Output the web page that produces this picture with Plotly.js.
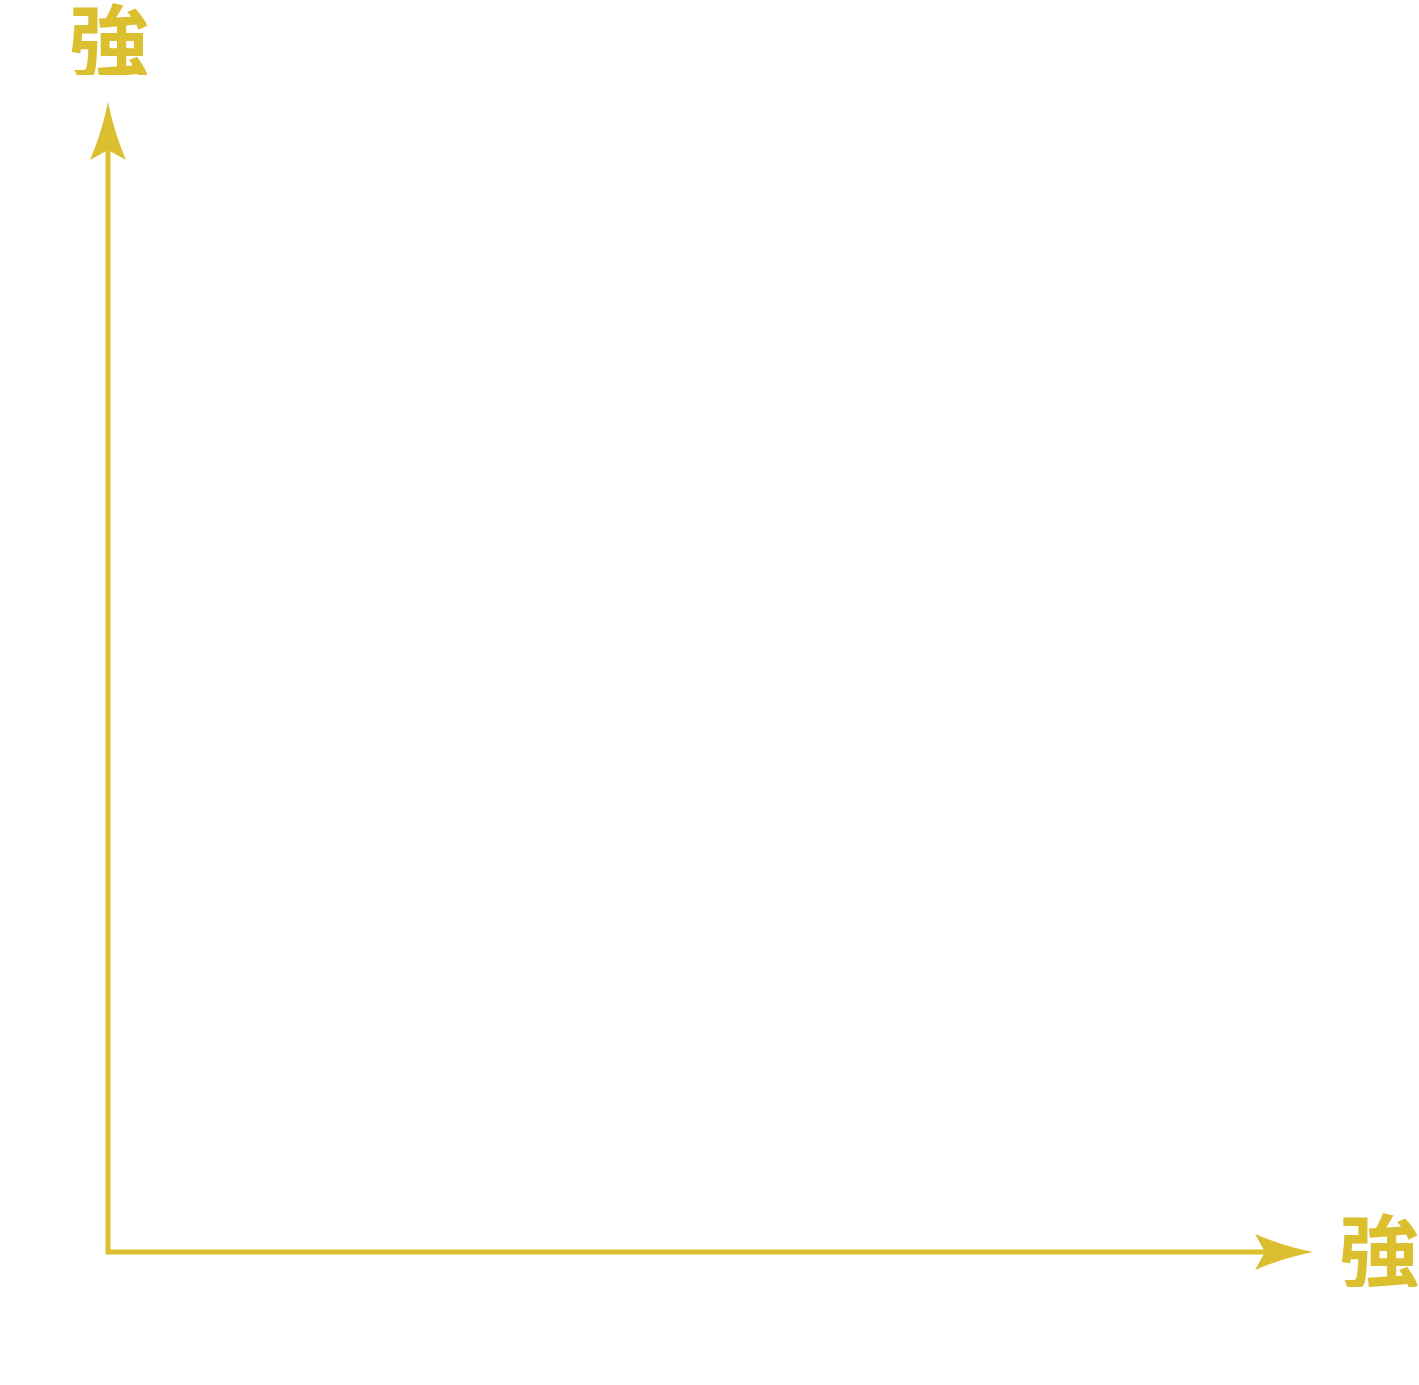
<!DOCTYPE html>
<html>
<head>
<meta charset="utf-8">
<script src="https://cdn.plot.ly/plotly-3.0.1.min.js"></script>
<style>
  html, body { margin: 0; padding: 0; background: #fff; }
  #chart { width: 1419px; height: 1385px; }
</style>
</head>
<body>
<div id="chart"></div>
<script>
// axes as one path: x-axis end -> origin -> y-axis end (data units)
var axisX = [1, 0, 0];
var axisY = [0, 0, 1];
var xLabel = '強';
var yLabel = '強';

var gold = '#DBBF2F';

// where the axes sit on the page (pixels)
var figW = 1419, figH = 1385;
var axLeft = 108, axRight = 1273, axBottom = 1252, axTop = 142;
var xSpan = axRight - axLeft, ySpan = axBottom - axTop;

var traces = [
  { x: axisX, y: axisY, mode: 'lines', line: { color: gold, width: 5 }, hoverinfo: 'skip' }
];

// stealth arrowheads, sized in pixels, anchored at the end of each axis
var headRight = 'M 40 0 Q 10 -6 -18 -18 L -8 0 L -18 18 Q 10 6 40 0 Z';
var headUp = 'M 0 40 Q -6 10 -18 -18 L 0 -8 L 18 -18 Q 6 10 0 40 Z';

var labelFont = { family: 'Noto Sans CJK JP', size: 80, color: gold, weight: 'bold' };

var layout = {
  width: figW,
  height: figH,
  margin: { l: 0, r: 0, t: 0, b: 0, pad: 0 },
  paper_bgcolor: '#fff',
  plot_bgcolor: '#fff',
  showlegend: false,
  xaxis: { range: [-axLeft / xSpan, 1 + (figW - axRight) / xSpan], visible: false, fixedrange: true },
  yaxis: { range: [-(figH - axBottom) / ySpan, 1 + axTop / ySpan], visible: false, fixedrange: true },
  shapes: [
    { type: 'path', xref: 'x', yref: 'y', xsizemode: 'pixel', ysizemode: 'pixel',
      xanchor: axisX[0], yanchor: axisY[0], path: headRight,
      fillcolor: gold, line: { width: 0 } },
    { type: 'path', xref: 'x', yref: 'y', xsizemode: 'pixel', ysizemode: 'pixel',
      xanchor: axisX[2], yanchor: axisY[2], path: headUp,
      fillcolor: gold, line: { width: 0 } }
  ],
  annotations: [
    { x: axisX[0], y: axisY[0], xref: 'x', yref: 'y', text: xLabel, showarrow: false,
      xanchor: 'center', yanchor: 'middle', xshift: 106, yshift: 6, height: 82,
      font: labelFont },
    { x: axisX[2], y: axisY[2], xref: 'x', yref: 'y', text: yLabel, showarrow: false,
      xanchor: 'center', yanchor: 'middle', xshift: 1, yshift: 106, height: 78,
      font: labelFont }
  ]
};

Plotly.newPlot('chart', traces, layout, { staticPlot: true, displayModeBar: false });
</script>
</body>
</html>
